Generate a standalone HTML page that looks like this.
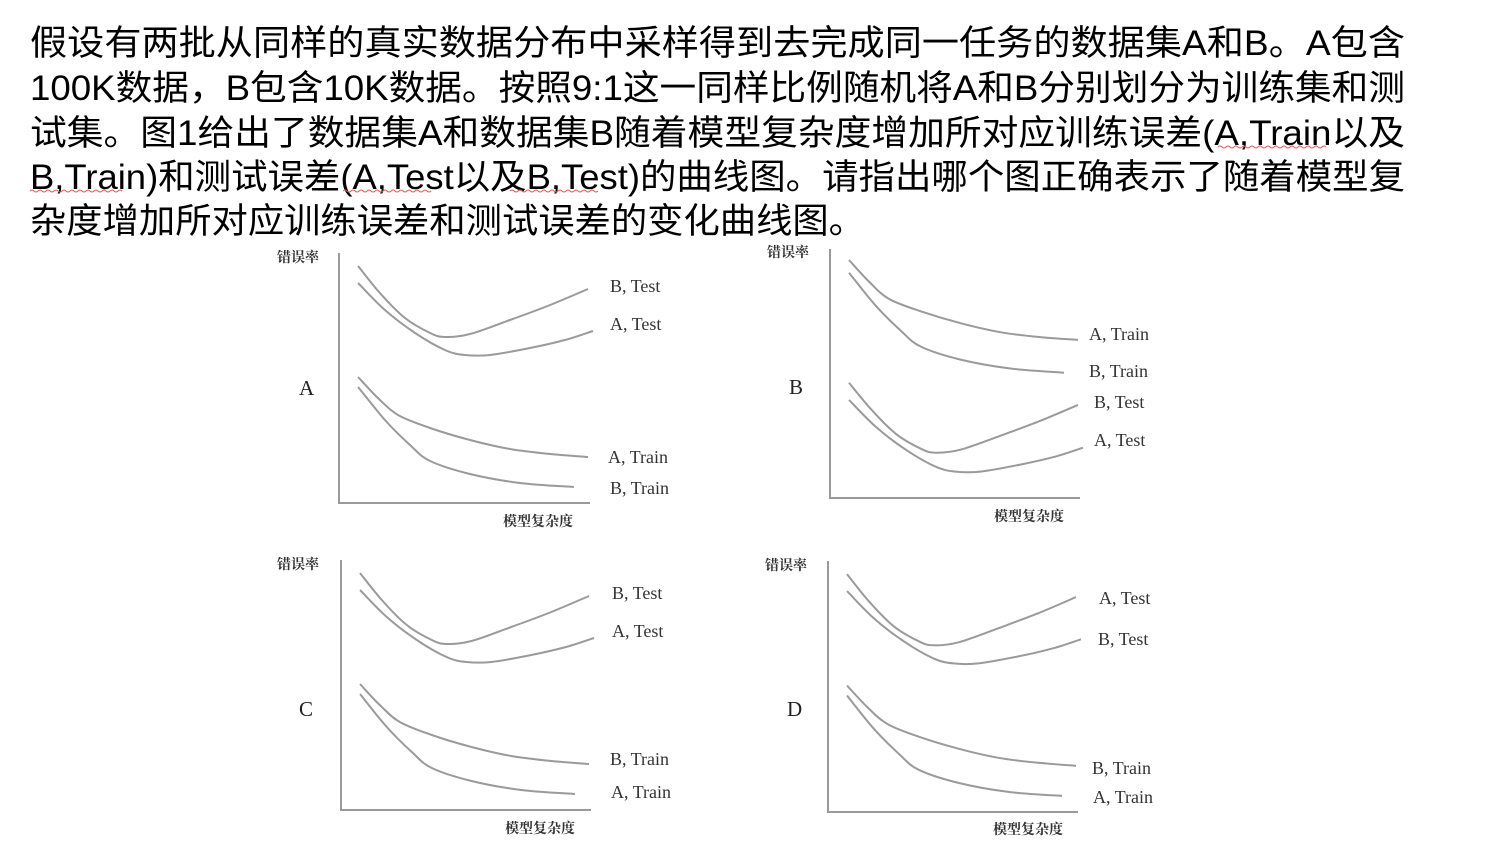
<!DOCTYPE html>
<html><head><meta charset="utf-8">
<style>
html,body{margin:0;padding:0;background:#fff;}
svg{display:block;}
.q{font-family:"Liberation Sans","Noto Sans CJK SC",sans-serif;font-size:35px;fill:#000;}
.lab{font-family:"Liberation Serif","Noto Serif CJK SC",serif;font-size:18px;fill:#333;}
.cn{font-family:"Noto Serif CJK SC",serif;font-size:14px;font-weight:bold;fill:#333;}
.pl{font-family:"Liberation Serif",serif;font-size:21px;fill:#222;}
</style></head>
<body>
<svg id="root" width="1498" height="854" viewBox="0 0 1498 854" xmlns="http://www.w3.org/2000/svg">
<g>
<text class="q" x="30" y="55" textLength="1375" lengthAdjust="spacingAndGlyphs">假设有两批从同样的真实数据分布中采样得到去完成同一任务的数据集A和B。A包含</text>
<text class="q" x="30" y="100" textLength="1375" lengthAdjust="spacingAndGlyphs">100K数据，B包含10K数据。按照9:1这一同样比例随机将A和B分别划分为训练集和测</text>
<text class="q" x="30" y="145" textLength="1375" lengthAdjust="spacingAndGlyphs">试集。图1给出了数据集A和数据集B随着模型复杂度增加所对应训练误差(A,Train以及</text>
<text class="q" x="30" y="189" textLength="1375" lengthAdjust="spacingAndGlyphs">B,Train)和测试误差(A,Test以及B,Test)的曲线图。请指出哪个图正确表示了随着模型复</text>
<text class="q" x="30" y="233" textLength="835" lengthAdjust="spacingAndGlyphs">杂度增加所对应训练误差和测试误差的变化曲线图。</text>
<path d="M1218 147 q2 -2 4 0 t4 0 t4 0 t4 0 t4 0 t4 0 t4 0 t4 0 t4 0 t4 0 t4 0 t4 0 t4 0 t4 0 t4 0 t4 0 t4 0 t4 0 t4 0 t4 0 t4 0 t4 0 t4 0 t4 0 t4 0 t4 0 t4 0" fill="none" stroke="#e55" stroke-width="1"/>
<path d="M30 191 q2 -2 4 0 t4 0 t4 0 t4 0 t4 0 t4 0 t4 0 t4 0 t4 0 t4 0 t4 0 t4 0 t4 0 t4 0 t4 0 t4 0 t4 0 t4 0 t4 0 t4 0 t4 0 t4 0 t4 0" fill="none" stroke="#e55" stroke-width="1"/>
<path d="M343 191 q2 -2 4 0 t4 0 t4 0 t4 0 t4 0 t4 0 t4 0 t4 0 t4 0 t4 0 t4 0 t4 0 t4 0 t4 0 t4 0 t4 0 t4 0 t4 0 t4 0 t4 0 t4 0 t4 0" fill="none" stroke="#e55" stroke-width="1"/>
<path d="M510 191 q2 -2 4 0 t4 0 t4 0 t4 0 t4 0 t4 0 t4 0 t4 0 t4 0 t4 0 t4 0 t4 0 t4 0 t4 0 t4 0 t4 0 t4 0 t4 0 t4 0 t4 0 t4 0 t4 0" fill="none" stroke="#e55" stroke-width="1"/>
</g>
<g id="charts"></g>
</svg>
<script>
// complexity values (x, 0..100) and error values (y, 0..100) per curve
const testUpperX = [7.6,16.3,26.3,36.3,42.2,52.2,68.1,84.1,99.2];
const testUpperY = [94.8,84,74,68,66.4,67.6,73.2,79.2,85.6];
const testLowerX = [7.6,18.3,30.3,42.2,50.2,60.2,76.1,90,101.2];
const testLowerY = [88,77.2,68,61.2,59.2,59.2,62,65.2,68.8];
const trainUpperX = [7.6,15.5,23.5,36.3,52.2,68.1,84.1,99.2];
const trainUpperY = [50.4,42,35.2,30,25.2,21.6,19.6,18.4];
const trainLowerX = [7.6,18.3,28.3,36.3,52.2,72.1,93.6];
const trainLowerY = [46.4,33.2,23.2,16.8,11.6,8,6.4];
// panel B: train curves high, test curves low
const bTrainUpperY = [95.6,87,80,75,70.2,66.6,64.6,63.5];
const bTrainLowerY = [90.5,77.2,67.2,60.8,55.6,52,50.3];
const bTestUpperY = [46.3,35.8,25.8,19.8,18.2,19.4,25,31,37.4];
const bTestLowerY = [39.4,28.6,19.4,12.6,10.6,10.6,13.4,16.6,20.2];

const panelNames = ["A","B","C","D"];
const seriesLabels = {
  A:["B, Test","A, Test","A, Train","B, Train"],
  B:["B, Test","A, Test","A, Train","B, Train"],
  C:["B, Test","A, Test","B, Train","A, Train"],
  D:["A, Test","B, Test","B, Train","A, Train"]
};

const panels = [
 {id:"A",x0:339,x1:590,y0:503,y1:253,curves:[[testUpperX,testUpperY],[testLowerX,testLowerY],[trainUpperX,trainUpperY],[trainLowerX,trainLowerY]],
  lab:[[610,292],[610,330],[608,463],[610,494]],cn:[277,262],pl:[299,395],xl:[503,526]},
 {id:"B",x0:830,x1:1080,y0:498,y1:249,curves:[[testUpperX,bTestUpperY],[testLowerX,bTestLowerY],[trainUpperX,bTrainUpperY],[trainLowerX,bTrainLowerY]],
  lab:[[1094,408],[1094,446],[1089,340],[1089,377]],cn:[767,257],pl:[789,394],xl:[994,521]},
 {id:"C",x0:341,x1:591,y0:810,y1:560,curves:[[testUpperX,testUpperY],[testLowerX,testLowerY],[trainUpperX,trainUpperY],[trainLowerX,trainLowerY]],
  lab:[[612,599],[612,637],[610,765],[611,798]],cn:[277,569],pl:[299,716],xl:[505,833]},
 {id:"D",x0:828,x1:1078,y0:812,y1:561,curves:[[testUpperX,testUpperY],[testLowerX,testLowerY],[trainUpperX,trainUpperY],[trainLowerX,trainLowerY]],
  lab:[[1099,604],[1098,645],[1092,774],[1093,803]],cn:[765,570],pl:[787,716],xl:[993,834]}
];

const NS="http://www.w3.org/2000/svg";
const root=document.getElementById("charts");
function mk(tag,attrs,parent){const e=document.createElementNS(NS,tag);for(const k in attrs)e.setAttribute(k,attrs[k]);parent.appendChild(e);return e;}
function smooth(pts){
  let d="M"+pts[0][0].toFixed(1)+" "+pts[0][1].toFixed(1);
  for(let i=0;i<pts.length-1;i++){
    const p0=pts[i-1]||pts[i],p1=pts[i],p2=pts[i+1],p3=pts[i+2]||p2;
    const c1=[p1[0]+(p2[0]-p0[0])/6,p1[1]+(p2[1]-p0[1])/6];
    const c2=[p2[0]-(p3[0]-p1[0])/6,p2[1]-(p3[1]-p1[1])/6];
    d+=" C"+c1[0].toFixed(1)+" "+c1[1].toFixed(1)+" "+c2[0].toFixed(1)+" "+c2[1].toFixed(1)+" "+p2[0].toFixed(1)+" "+p2[1].toFixed(1);
  }
  return d;
}
panels.forEach(p=>{
  const g=mk("g",{},root);
  
  
  const sx=v=>p.x0+v/100*(p.x1-p.x0);
  const sy=v=>p.y0-v/100*(p.y0-p.y1);
  const ax=mk("path",{d:`M${p.x0} ${p.y1} L${p.x0} ${p.y0} L${p.x1} ${p.y0}`,fill:"none",stroke:"#9a9a9a","stroke-width":2},g);
  
  
  const labels=seriesLabels[p.id];
  p.curves.forEach((c,i)=>{
    const pts=c[0].map((x,j)=>[sx(x),sy(c[1][j])]);
    const path=mk("path",{d:smooth(pts),fill:"none",stroke:"#9a9a9a","stroke-width":2},g);
    
    
    const t=mk("text",{x:p.lab[i][0],y:p.lab[i][1],class:"lab"},g);
    t.textContent=labels[i];
    
    
  });
  const yt=mk("text",{x:p.cn[0],y:p.cn[1],class:"cn"},g);yt.textContent="错误率";
  
  
  const xt=mk("text",{x:p.xl[0],y:p.xl[1],class:"cn"},g);xt.textContent="模型复杂度";
  
  
  const pl=mk("text",{x:p.pl[0],y:p.pl[1],class:"pl"},g);pl.textContent=p.id;
  
  
});
</script>
</body></html>
